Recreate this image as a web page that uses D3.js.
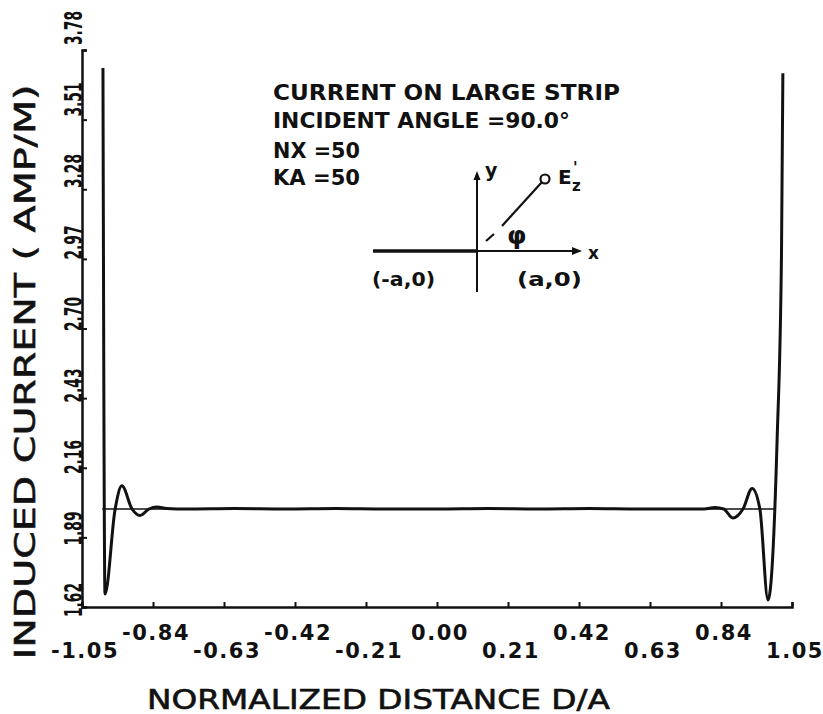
<!DOCTYPE html>
<html lang="en">
<head>
    <meta charset="UTF-8">
    <title>Induced current on large strip</title>
    <script src="https://cdn.jsdelivr.net/npm/d3@7"></script>
    <style>
        body { margin: 0; background: #fff; }
        text { font-family: "DejaVu Sans", sans-serif; font-weight: bold; fill: #111; }
        text.title { font-weight: normal; stroke: #111; stroke-width: 0.6px; }
    </style>
</head>
<body>
    <div id="chart"></div>

    <script>
        // tick values and the labels as printed on the plot
        const yTicks = [1.62, 1.89, 2.16, 2.43, 2.70, 2.97, 3.24, 3.51, 3.78];
        const yTickLabels = ["1.62", "1.89", "2.16", "2.43", "2.70", "2.97", "3.28", "3.51", "3.78"];
        const xTicks = [-1.05, -0.84, -0.63, -0.42, -0.21, 0.00, 0.21, 0.42, 0.63, 0.84, 1.05];
        const xTickLabels = ["-1.05", "-0.84", "-0.63", "-0.42", "-0.21", "0.00", "0.21", "0.42", "0.63", "0.84", "1.05"];

        // computed current (thick curve)
        const distance = [-0.988, -0.982, -0.952, -0.932, -0.902, -0.878, -0.852, -0.828, -0.80, -0.74, -0.60, -0.45,
                          -0.30, -0.15, 0.00, 0.15, 0.30, 0.45, 0.60, 0.72, 0.79, 0.822, 0.848, 0.875, 0.905,
                          0.932, 0.955, 0.979, 1.006, 1.019, 1.023];
        const current = [3.71, 1.67, 2.00, 2.09, 2.00, 1.975, 2.00, 2.008, 2.002, 2.0, 2.002, 2.0,
                         2.002, 2.0, 2.0, 2.002, 2.0, 2.002, 2.0, 2.0, 2.0, 2.006, 2.0, 1.965, 2.0,
                         2.08, 2.00, 1.647, 2.27, 3.0, 3.69];

        // physical optics reference (thin line)
        const poDistance = [-0.99, 1.0];
        const poCurrent = [2.0, 2.0];

        const width = 823, height = 714;

        const svg = d3.select("#chart")
            .append("svg")
            .attr("width", width)
            .attr("height", height);

        const x = d3.scaleLinear().domain([-1.05, 1.05]).range([82, 792]);
        const y = d3.scaleLinear().domain([1.62, 3.78]).range([607, 50]);
        // printed labels sit a bit above their ticks, drifting toward the top
        const yLabel = d3.scaleLinear().domain([1.62, 3.78]).range([600, 28]);

        // axes
        const yAxis = svg.append("g")
            .attr("transform", `translate(${x(-1.05)},0)`)
            .call(d3.axisRight(y).tickValues(yTicks).tickSize(5).tickFormat(""));
        const xAxis = svg.append("g")
            .attr("transform", `translate(0,${y(1.62)})`)
            .call(d3.axisTop(x).tickValues(xTicks).tickSize(5).tickFormat(""));

        [yAxis, xAxis].forEach(g => {
            g.select(".domain").attr("stroke", "#111").attr("stroke-width", 2.5);
            g.selectAll(".tick line").attr("stroke", "#111").attr("stroke-width", 2);
        });

        // y tick labels (rotated)
        svg.append("g")
            .selectAll("text")
            .data(yTicks)
            .enter()
            .append("text")
            .attr("transform", d => `translate(82,${yLabel(d)}) rotate(-90)`)
            .attr("text-anchor", "middle")
            .attr("font-size", 24)
            .attr("textLength", 34)
            .attr("lengthAdjust", "spacingAndGlyphs")
            .text((d, i) => yTickLabels[i]);

        // x tick labels, alternating rows
        svg.append("g")
            .selectAll("text")
            .data(xTicks)
            .enter()
            .append("text")
            .attr("x", d => x(d) + 3)
            .attr("y", (d, i) => i % 2 === 0 ? 658 : 640)
            .attr("text-anchor", "middle")
            .attr("font-size", 21)
            .attr("letter-spacing", 1.5)
            .text((d, i) => xTickLabels[i]);

        // axis titles
        svg.append("text")
            .attr("class", "title")
            .attr("transform", "translate(35,372) rotate(-90)")
            .attr("text-anchor", "middle")
            .attr("font-size", 29)
            .attr("textLength", 575)
            .attr("lengthAdjust", "spacingAndGlyphs")
            .text("INDUCED CURRENT ( AMP/M)");

        svg.append("text")
            .attr("class", "title")
            .attr("x", 147)
            .attr("y", 709)
            .attr("font-size", 26)
            .attr("textLength", 463)
            .attr("lengthAdjust", "spacingAndGlyphs")
            .text("NORMALIZED DISTANCE D/A");

        // data lines
        const poLine = d3.line()
            .x((d, i) => x(poDistance[i]))
            .y(d => y(d));
        svg.append("path")
            .attr("d", poLine(poCurrent))
            .attr("fill", "none")
            .attr("stroke", "#111")
            .attr("stroke-width", 1.6);

        const line = d3.line()
            .x((d, i) => x(distance[i]))
            .y(d => y(d))
            .curve(d3.curveMonotoneX);
        svg.append("path")
            .attr("d", line(current))
            .attr("fill", "none")
            .attr("stroke", "#111")
            .attr("stroke-width", 3)
            .attr("stroke-linejoin", "round");

        // annotation block
        const notes = [
            { t: "CURRENT ON  LARGE STRIP", y: 100, w: 347 },
            { t: "INCIDENT  ANGLE =90.0\u00b0", y: 128, w: 297 },
            { t: "NX =50", y: 158, w: 87 },
            { t: "KA =50", y: 185, w: 87 }
        ];
        svg.append("g")
            .selectAll("text")
            .data(notes)
            .enter()
            .append("text")
            .attr("x", 273)
            .attr("y", d => d.y)
            .attr("font-size", 21)
            .attr("textLength", d => d.w)
            .attr("lengthAdjust", "spacingAndGlyphs")
            .text(d => d.t);

        // inset geometry sketch
        const inset = svg.append("g").attr("stroke", "#111").attr("fill", "none");
        inset.append("line").attr("x1", 373).attr("y1", 251).attr("x2", 580).attr("y2", 251).attr("stroke-width", 2);
        inset.append("line").attr("x1", 373).attr("y1", 251).attr("x2", 477).attr("y2", 251).attr("stroke-width", 3.5);
        inset.append("path").attr("d", "M582,251 L572,247 L572,255 Z").attr("fill", "#111").attr("stroke", "none");
        inset.append("line").attr("x1", 477).attr("y1", 292).attr("x2", 477).attr("y2", 176).attr("stroke-width", 2);
        inset.append("path").attr("d", "M477,171 L473.5,180 L480.5,180 Z").attr("fill", "#111").attr("stroke", "none");
        inset.append("line").attr("x1", 486).attr("y1", 241).attr("x2", 494).attr("y2", 234).attr("stroke-width", 2.2);
        inset.append("line").attr("x1", 502).attr("y1", 226).attr("x2", 542).attr("y2", 182).attr("stroke-width", 2.2);
        inset.append("circle").attr("cx", 545).attr("cy", 179).attr("r", 4.5).attr("stroke-width", 2.2).attr("fill", "#fff");

        const insetText = [
            { t: "y", x: 485, y: 177, s: 19 },
            { t: "x", x: 588, y: 259, s: 17 },
            { t: "(-a,0)", x: 372, y: 286, s: 20, w: 63 },
            { t: "(a,0)", x: 517, y: 286, s: 20, w: 65 },
            { t: "\u03c6", x: 507, y: 244, s: 25 }
        ];
        svg.append("g")
            .selectAll("text")
            .data(insetText)
            .enter()
            .append("text")
            .attr("x", d => d.x)
            .attr("y", d => d.y)
            .attr("font-size", d => d.s)
            .attr("textLength", d => d.w || null)
            .attr("lengthAdjust", "spacingAndGlyphs")
            .text(d => d.t);

        // E'z label
        svg.append("text").attr("x", 558).attr("y", 184).attr("font-size", 20).text("E");
        svg.append("text").attr("x", 573).attr("y", 173).attr("font-size", 15).text("'");
        svg.append("text").attr("x", 572).attr("y", 191).attr("font-size", 15).text("z");
    </script>
</body>
</html>
